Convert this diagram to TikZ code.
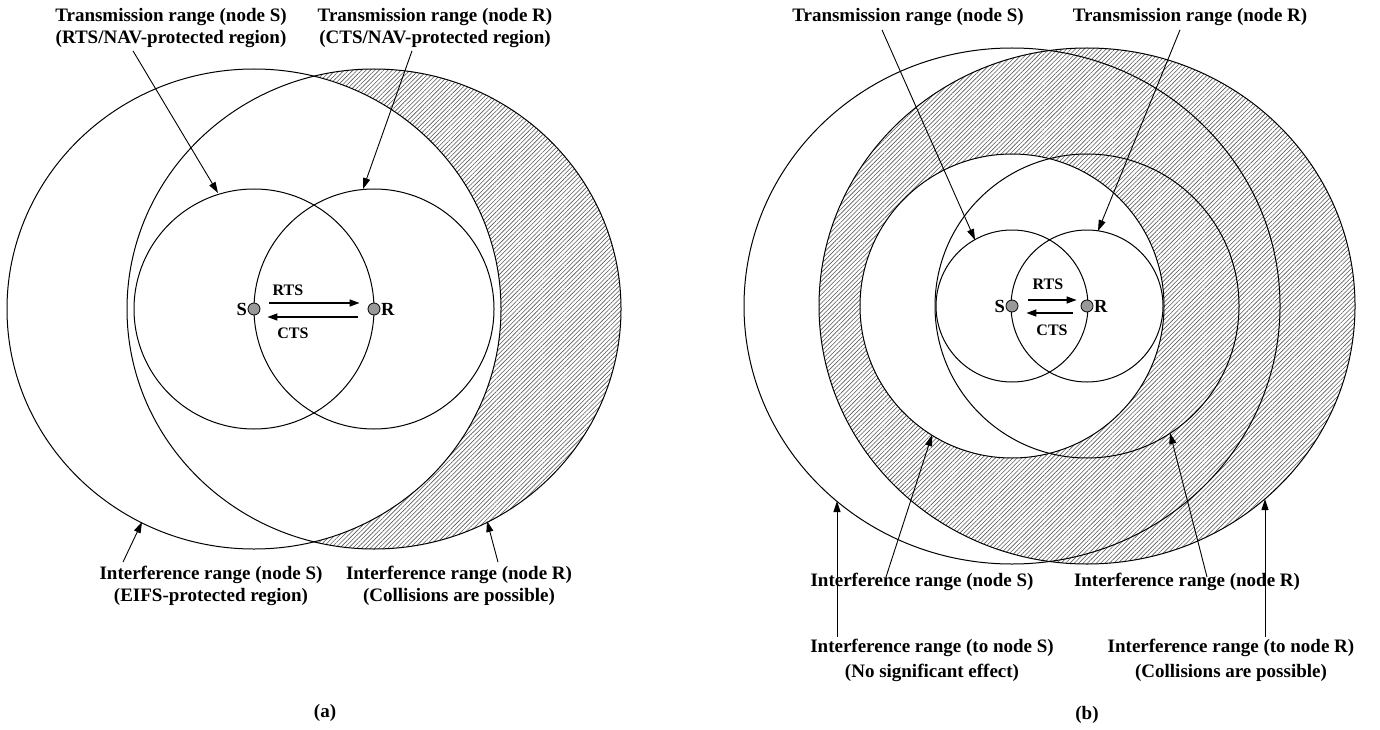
\documentclass[tikz,border=0pt]{standalone}
\usepackage{fontspec}
\setmainfont{Liberation Serif}
\usetikzlibrary{arrows.meta,patterns.meta}

\tikzset{
	rangeline/.style={line width=1pt},
	hatch/.style={pattern={Lines[angle=45,distance=3.1pt,line width=0.6pt]},pattern color=black!65},
	lbl/.style={font=\bfseries\fontsize{19}{22}\selectfont,align=center,inner sep=0pt},
	tag/.style={font=\bfseries\fontsize{16}{18}\selectfont,inner sep=1pt},
	nodename/.style={font=\bfseries\fontsize{18.5}{20}\selectfont,inner sep=0.5pt},
	subcap/.style={font=\bfseries\fontsize{19}{20}\selectfont},
	pointer/.style={line width=0.9pt,-{Triangle[length=11pt,width=7pt]}},
	msg/.style={line width=1.3pt,-{Triangle[length=10pt,width=7pt]}},
	dot/.style={circle,draw,fill=black!40,minimum size=12pt,inner sep=0pt,line width=0.8pt},
}

\begin{document}
\begin{tikzpicture}[x=1pt,y=-1pt]
	\useasboundingbox (0,0) rectangle (1380,730);
	% (a)
	\coordinate (aS) at (254,309);
	\coordinate (aR) at (374,309);
	\begin{scope}
		\clip (aR) ellipse [x radius=247pt,y radius=240pt];
		\fill[hatch,even odd rule] (0,0) rectangle (690,730) (aS) ellipse [x radius=247pt,y radius=240pt];
	\end{scope}
	\draw[rangeline] (aS) circle [radius=120pt];
	\draw[rangeline] (aR) circle [radius=120pt];
	\draw[rangeline] (aS) ellipse [x radius=247pt,y radius=240pt];
	\draw[rangeline] (aR) ellipse [x radius=247pt,y radius=240pt];
	\node[dot] (aSdot) at (aS) {};
	\node[dot] (aRdot) at (aR) {};
	\node[nodename,left] at (aSdot.west) {S};
	\node[nodename,right] at (aRdot.east) {R};
	\draw[msg,shorten <=9pt,shorten >=8pt] ([yshift=6pt]aSdot.east) -- ([yshift=6pt]aRdot.west);
	\draw[msg,shorten <=10pt,shorten >=7pt] ([yshift=-8pt]aRdot.west) -- ([yshift=-8pt]aSdot.east);
	\node[tag] (aRTS) at (288,290) {RTS};
	\node[tag] (aCTS) at (293,333) {CTS};

	\node[lbl] (aTS) at (171,28) {Transmission range (node S)\\(RTS/NAV-protected region)};
	\node[lbl] (aTR) at (435,28) {Transmission range (node R)\\(CTS/NAV-protected region)};
	\node[lbl] (aIS) at (211,586) {Interference range (node S)\\(EIFS-protected region)};
	\node[lbl] (aIR) at (459,586) {Interference range (node R)\\(Collisions are possible)};
	\coordinate (aTSend) at (218,193);
	\coordinate (aTRend) at (363,189);
	\coordinate (aISend) at (142,522);
	\coordinate (aIRend) at (487,521);
	\draw[pointer] ([xshift=-38pt,yshift=-3pt]aTS.south) -- (aTSend);
	\draw[pointer] ([xshift=-23pt,yshift=-3pt]aTR.south) -- (aTRend);
	\draw[pointer] ([xshift=-88pt,yshift=4pt]aIS.north) -- (aISend);
	\draw[pointer] ([xshift=39pt,yshift=4pt]aIR.north) -- (aIRend);
	\node[subcap] (capA) at (325,713) {(a)};

	% (b)
	\coordinate (bS) at (1012,306);
	\coordinate (bR) at (1087,306);
	\begin{scope}
		\clip (bR) ellipse [x radius=268pt,y radius=258pt];
		\fill[hatch,even odd rule] (690,0) rectangle (1380,730) (bS) circle [radius=152pt];
	\end{scope}
	\draw[rangeline] (bS) circle [radius=76pt];
	\draw[rangeline] (bR) circle [radius=76pt];
	\draw[rangeline] (bS) circle [radius=152pt];
	\draw[rangeline] (bR) circle [radius=152pt];
	\draw[rangeline] (bS) ellipse [x radius=268pt,y radius=258pt];
	\draw[rangeline] (bR) ellipse [x radius=268pt,y radius=258pt];
	\node[dot] (bSdot) at (bS) {};
	\node[dot] (bRdot) at (bR) {};
	\node[nodename,left] at (bSdot.west) {S};
	\node[nodename,right] at (bRdot.east) {R};
	\draw[msg,shorten <=10pt,shorten >=4pt] ([yshift=6pt]bSdot.east) -- ([yshift=6pt]bRdot.west);
	\draw[msg,shorten <=8pt,shorten >=8pt] ([yshift=-7pt]bRdot.west) -- ([yshift=-7pt]bSdot.east);
	\node[tag] (bRTS) at (1048,284) {RTS};
	\node[tag] (bCTS) at (1052,330) {CTS};

	\node[lbl] (bTS) at (908,17) {Transmission range (node S)};
	\node[lbl] (bTR) at (1190,17) {Transmission range (node R)};
	\node[lbl] (bIS) at (922,582) {Interference range (node S)};
	\node[lbl] (bIR) at (1187,582) {Interference range (node R)};
	\node[lbl,font=\bfseries\fontsize{19}{25}\selectfont] (bToS) at (932,660) {Interference range (to node S)\\(No significant effect)};
	\node[lbl,font=\bfseries\fontsize{19}{25}\selectfont] (bToR) at (1231,660) {Interference range (to node R)\\(Collisions are possible)};
	\coordinate (bTSend) at (975,240);
	\coordinate (bTRend) at (1098,231);
	\coordinate (bISend) at (932,435);
	\coordinate (bIRend) at (1170,433);
	\coordinate (bToSend) at (837,501);
	\coordinate (bToRend) at (1265,499);
	\draw[pointer] ([xshift=-26pt,yshift=-4pt]bTS.south) -- (bTSend);
	\draw[pointer] ([xshift=-10pt,yshift=-4pt]bTR.south) -- (bTRend);
	\draw[pointer] ([xshift=-36pt,yshift=5pt]bIS.center) -- (bISend);
	\draw[pointer] ([xshift=20pt,yshift=5pt]bIR.center) -- (bIRend);
	\draw[pointer] ([xshift=-95pt,yshift=2pt]bToS.north) -- (bToSend);
	\draw[pointer] ([xshift=34pt,yshift=2pt]bToR.north) -- (bToRend);
	\node[subcap] (capB) at (1087,715) {(b)};
\end{tikzpicture}
\end{document}
